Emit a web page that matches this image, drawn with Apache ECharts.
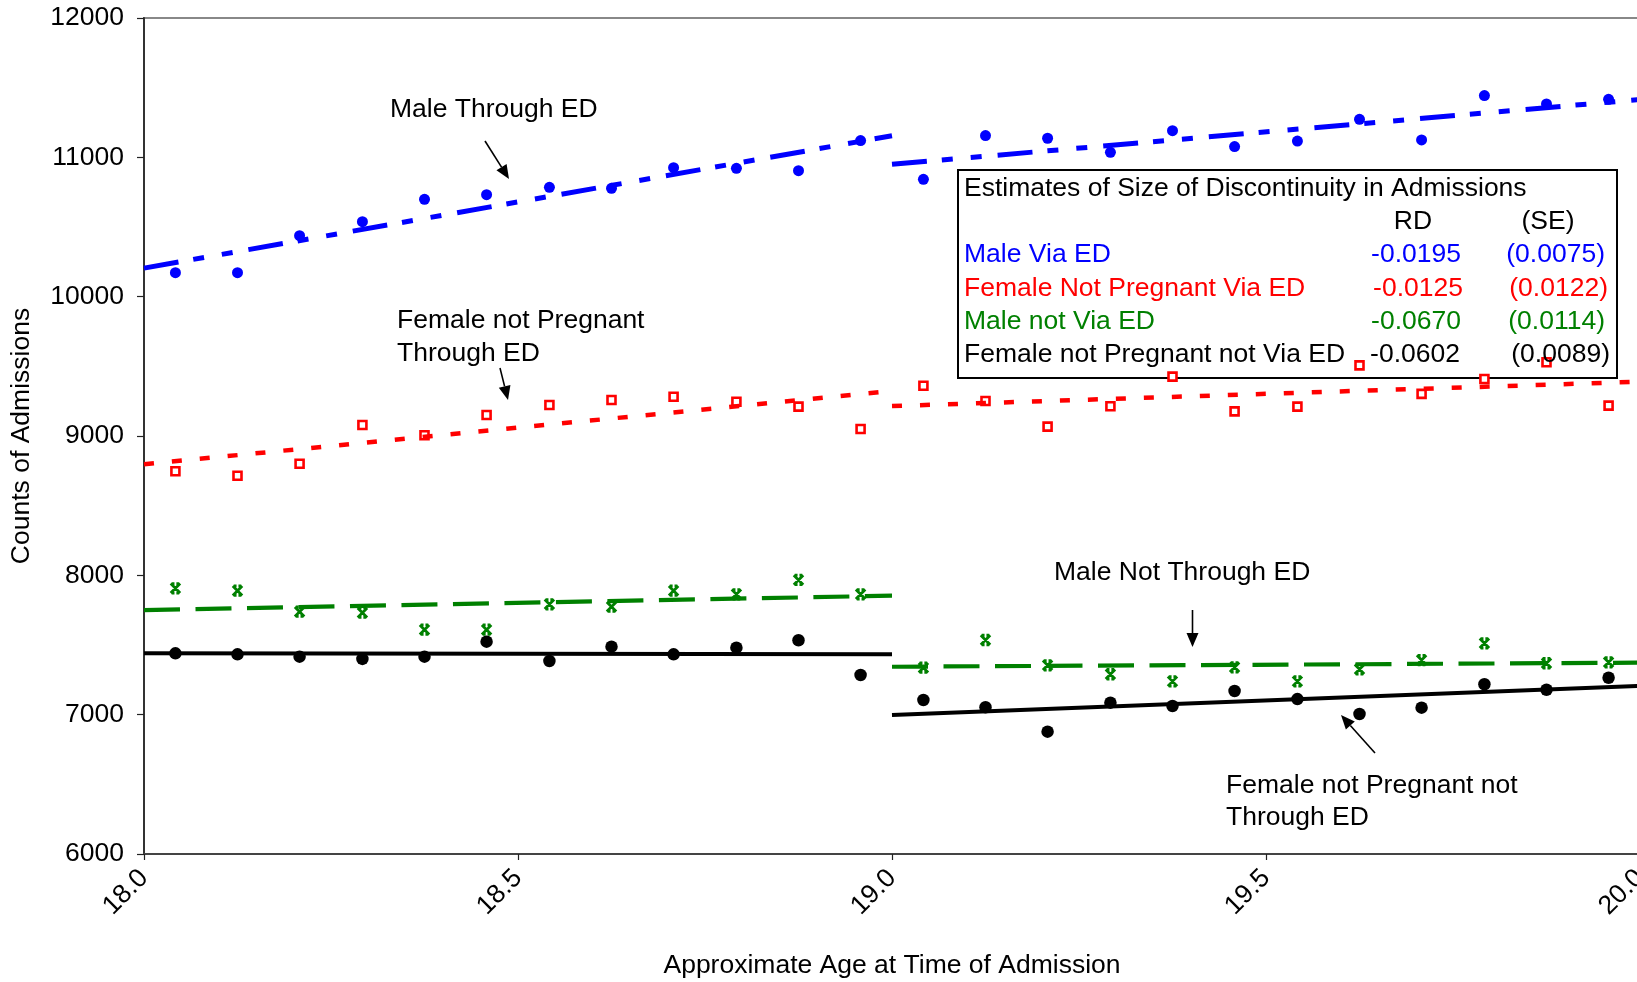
<!DOCTYPE html>
<html>
<head>
<meta charset="utf-8">
<script src="https://cdn.jsdelivr.net/npm/echarts@6.0.0/dist/echarts.min.js"></script>
<style>html,body{margin:0;padding:0;background:#fff}#c{width:1637px;height:982px}</style>
</head>
<body>
<div id="c"></div>
<script>
// ---------- DATA ----------
const ages = [18.042,18.125,18.208,18.292,18.375,18.458,18.542,18.625,18.708,18.792,18.875,18.958,
              19.042,19.125,19.208,19.292,19.375,19.458,19.542,19.625,19.708,19.792,19.875,19.958];
const maleViaED = [10172,10172,10438,10538,10699,10732,10785,10778,10926,10921,10904,11120,
                   10842,11156,11137,11036,11191,11077,11117,11273,11125,11443,11383,11416];
const femaleViaED = [8747,8715,8801,9079,9005,9151,9223,9258,9282,9246,9211,9050,
                     9361,9251,9067,9213,9426,9177,9211,9507,9302,9409,9529,9218];
const maleNotViaED = [7907,7890,7739,7732,7610,7610,7792,7775,7890,7864,7967,7864,
                      7337,7536,7354,7290,7239,7340,7239,7326,7392,7512,7369,7376];
const femaleNotViaED = [7440,7433,7416,7400,7416,7524,7385,7488,7433,7481,7534,7285,
                        7105,7053,6878,7086,7062,7170,7112,7005,7050,7218,7179,7265];
// fitted line end values: [at 18.0, at 19.0] and [at 19.0, at 20.0]
const maleViaEDFitL = [10205, 11155], maleViaEDFitR = [10950, 11415];
const femaleViaEDFitL = [8797, 9323], femaleViaEDFitR = [9215, 9390];
const maleNotViaEDFitL = [7751, 7854], maleNotViaEDFitR = [7344, 7373];
const femaleNotViaEDFitL = [7440, 7433], femaleNotViaEDFitR = [6998, 7206];
const cutoffs = [18, 19, 20];
const yTicks = {min: 6000, max: 12000, step: 1000};
const xTicks = {min: 18, max: 20, step: 0.5};
const tableTitle = 'Estimates of Size of Discontinuity in Admissions';
const tableHead = ['RD', '(SE)'];
const tableRows = ['Male Via ED', 'Female Not Pregnant Via ED', 'Male not Via ED', 'Female not Pregnant not Via ED'];
const rdVals = ['-0.0195', '-0.0125', '-0.0670', '-0.0602'];
const seVals = ['(0.0075)', '(0.0122)', '(0.0114)', '(0.0089)'];
const yTitle = 'Counts of Admissions';
const xTitle = 'Approximate Age at Time of Admission';

// ---------- STYLE ----------
const FONT = '"Liberation Sans", Arial, sans-serif';
const FS = 26.5;
const BLUE = '#0000ff', RED = '#ff0000', GREEN = '#008000', BLACK = '#000000';
const rowColors = [BLUE, RED, GREEN, BLACK];
const TY = 2; // small vertical text offset

function pts(vals) { return ages.map((a, i) => [a, vals[i]]); }
function seg(x0, x1, v) { return [[x0, v[0]], [x1, v[1]]]; }

function fitSeries(data, color, width, dash) {
  return {
    type: 'line', data: data, symbol: 'none', z: 4, silent: true,
    lineStyle: {color: color, width: width, type: dash || 'solid', cap: 'butt'},
    animation: false
  };
}

const starPath = 'path://M0,0L10,10M10,0L0,10M1,0L4,0M6,0L9,0M1,10L4,10M6,10L9,10';

const series = [
  {type: 'scatter', data: pts(maleViaED), symbol: 'circle', symbolSize: 11, z: 3,
   itemStyle: {color: BLUE, opacity: 1}},
  {type: 'scatter', data: pts(femaleViaED), symbol: 'rect', symbolSize: 8, z: 3,
   itemStyle: {color: '#fff', borderColor: RED, borderWidth: 2.6, opacity: 1}},
  {type: 'scatter', data: pts(maleNotViaED), symbol: starPath, symbolSize: 9.5, z: 3,
   itemStyle: {color: 'rgba(0,0,0,0)', borderColor: GREEN, borderWidth: 2.8, opacity: 1}},
  {type: 'scatter', data: pts(femaleNotViaED), symbol: 'circle', symbolSize: 12.5, z: 3,
   itemStyle: {color: BLACK, opacity: 1}},
  fitSeries(seg(cutoffs[0], cutoffs[1], maleViaEDFitL), BLUE, 5, [35, 15, 11, 18, 11, 16]),
  fitSeries(seg(cutoffs[1], cutoffs[2], maleViaEDFitR), BLUE, 5, [35, 15, 11, 18, 11, 16]),
  fitSeries(seg(cutoffs[0], cutoffs[1], femaleViaEDFitL), RED, 4.5, [10, 18]),
  fitSeries(seg(cutoffs[1], cutoffs[2], femaleViaEDFitR), RED, 4.5, [10, 18]),
  fitSeries(seg(cutoffs[0], cutoffs[1], maleNotViaEDFitL), GREEN, 4.2, [36, 15.5]),
  fitSeries(seg(cutoffs[1], cutoffs[2], maleNotViaEDFitR), GREEN, 4.2, [36, 15.5]),
  fitSeries(seg(cutoffs[0], cutoffs[1], femaleNotViaEDFitL), BLACK, 4),
  fitSeries(seg(cutoffs[1], cutoffs[2], femaleNotViaEDFitR), BLACK, 4)
];

// ---------- ANNOTATIONS (layout) ----------
function txt(s, x, y, color, align) {
  return {type: 'text', x: x, y: y + TY, z: 10,
    style: {text: s, fill: color || BLACK, font: FS + 'px ' + FONT,
            textAlign: align || 'left', textVerticalAlign: 'middle'}};
}
function arrow(x1, y1, x2, y2) {
  const dx = x2 - x1, dy = y2 - y1, L = Math.hypot(dx, dy), ux = dx / L, uy = dy / L;
  const hl = 14, hw = 6;
  const bx = x2 - ux * hl, by = y2 - uy * hl;
  return [
    {type: 'line', z: 10, shape: {x1: x1, y1: y1, x2: bx, y2: by}, style: {stroke: BLACK, lineWidth: 1.6}},
    {type: 'polygon', z: 10, shape: {points: [[x2, y2], [bx - uy * hw, by + ux * hw], [bx + uy * hw, by - ux * hw]]},
     style: {fill: BLACK}}
  ];
}

const graphics = [];
graphics.push(txt('Male Through ED', 390, 108));
graphics.push(...arrow(485, 141, 509, 179));
graphics.push(txt('Female not Pregnant', 397, 319));
graphics.push(txt('Through ED', 397, 351.5));
graphics.push(...arrow(500, 368, 508, 400));
graphics.push(txt('Male Not Through ED', 1054, 571));
graphics.push(...arrow(1192.5, 610, 1192.5, 647));
graphics.push(txt('Female not Pregnant not', 1226, 784));
graphics.push(txt('Through ED', 1226, 816));
graphics.push(...arrow(1375, 753, 1341, 715));

// table box
graphics.push({type: 'rect', z: 1, shape: {x: 958, y: 170, width: 659, height: 208},
  style: {fill: 'none', stroke: BLACK, lineWidth: 2}});
graphics.push(txt(tableTitle, 964, 187));
graphics.push(txt(tableHead[0], 1413, 220, BLACK, 'center'));
graphics.push(txt(tableHead[1], 1548, 220, BLACK, 'center'));
const rowY = [253, 286.5, 320, 353];
const rdRight = [1461, 1463, 1461, 1460];
const seRight = [1605, 1608, 1605, 1610];
tableRows.forEach((r, i) => {
  graphics.push(txt(r, 964, rowY[i], rowColors[i]));
  graphics.push(txt(rdVals[i], rdRight[i], rowY[i], rowColors[i], 'right'));
  graphics.push(txt(seVals[i], seRight[i], rowY[i], rowColors[i], 'right'));
});

const chart = echarts.init(document.getElementById('c'), null, {renderer: 'canvas'});
chart.setOption({
  animation: false,
  backgroundColor: '#fff',
  grid: {left: 144, top: 18, width: 1496, height: 836, show: true, containLabel: false,
         outerBoundsMode: 'none',
         borderColor: '#888', borderWidth: 2, backgroundColor: 'transparent'},
  xAxis: {
    type: 'value', min: xTicks.min, max: xTicks.max, interval: xTicks.step,
    name: xTitle, nameLocation: 'middle', nameGap: 98, nameMoveOverlap: false,
    nameTextStyle: {color: BLACK, fontSize: FS, fontFamily: FONT},
    axisLine: {show: true, onZero: false, lineStyle: {color: '#444', width: 2}},
    axisTick: {show: true, length: 6, lineStyle: {color: '#222', width: 1.2}},
    splitLine: {show: false},
    axisLabel: {rotate: 45, margin: 20, color: BLACK, fontSize: FS, fontFamily: FONT,
                showMinLabel: true, showMaxLabel: true, hideOverlap: false,
                formatter: v => Number(v).toFixed(1)}
  },
  yAxis: {
    type: 'value', min: yTicks.min, max: yTicks.max, interval: yTicks.step,
    name: yTitle, nameLocation: 'middle', nameGap: 109, nameRotate: 90, nameMoveOverlap: false,
    nameTextStyle: {color: BLACK, fontSize: FS, fontFamily: FONT},
    axisLine: {show: true, onZero: false, lineStyle: {color: '#333', width: 2}},
    axisTick: {show: true, length: 7, lineStyle: {color: '#222', width: 1.2}},
    splitLine: {show: false},
    axisLabel: {margin: 20, color: BLACK, fontSize: FS, fontFamily: FONT,
                formatter: v => String(v)}
  },
  series: series,
  graphic: graphics
});
</script>
</body>
</html>
